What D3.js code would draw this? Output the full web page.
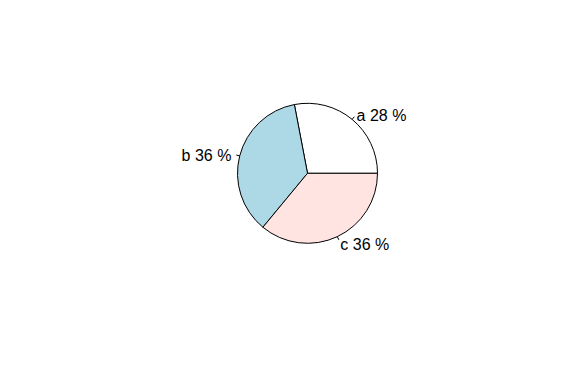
<!DOCTYPE html>
<html>
<head>
<meta charset="utf-8">
<script src="https://cdn.jsdelivr.net/npm/d3@7"></script>
<style>
  body { margin: 0; background: #fff; }
  svg { display: block; }
</style>
</head>
<body>
<svg id="chart" width="576" height="366"></svg>
<script>
// slice data
const labels = ["a", "b", "c"];
const values = [28, 36, 36];
const colors = ["#FFFFFF", "#ADD8E6", "#FFE4E1"];

const width = 576;
const height = 366;
const cx = 307.5;
const cy = 173.3;
const radius = 70;

const svg = d3.select("#chart");
const g = svg.append("g").attr("transform", `translate(${cx}, ${cy})`);

const total = d3.sum(values);

// R style: start at 3 o'clock, go counter-clockwise
// d3 angles go clockwise from 12 o'clock, so map: d3 = PI/2 - rAngle
const toAngle = d3.scaleLinear().domain([0, total]).range([0, 2 * Math.PI]);

let cum = 0;
const slices = values.map((v, i) => {
    const a0 = toAngle(cum);
    cum += v;
    const a1 = toAngle(cum);
    return { label: labels[i], value: v, color: colors[i], a0, a1 };
});

const arc = d3.arc().innerRadius(0).outerRadius(radius);

slices.forEach(s => {
    g.append("path")
        .attr("d", arc({ startAngle: Math.PI / 2 - s.a1, endAngle: Math.PI / 2 - s.a0 }))
        .attr("fill", s.color)
        .attr("stroke", "#000")
        .attr("stroke-width", 1);

    const mid = (s.a0 + s.a1) / 2;
    const px = Math.cos(mid);
    const py = -Math.sin(mid);

    g.append("line")
        .attr("x1", radius * px)
        .attr("y1", radius * py)
        .attr("x2", radius * 1.05 * px)
        .attr("y2", radius * 1.05 * py)
        .attr("stroke", "#000")
        .attr("stroke-width", 1);

    g.append("text")
        .attr("x", radius * 1.1 * px + (px < 0 ? -1.5 : 0))
        .attr("y", radius * 1.1 * py)
        .attr("text-anchor", px < 0 ? "end" : "start")
        .attr("dy", "0.42em")
        .attr("font-family", "Liberation Sans, Arial, sans-serif")
        .attr("font-size", "16px")
        .attr("fill", "#000")
        .text(`${s.label} ${Math.round(s.value / total * 100)} %`);
});
</script>
</body>
</html>
